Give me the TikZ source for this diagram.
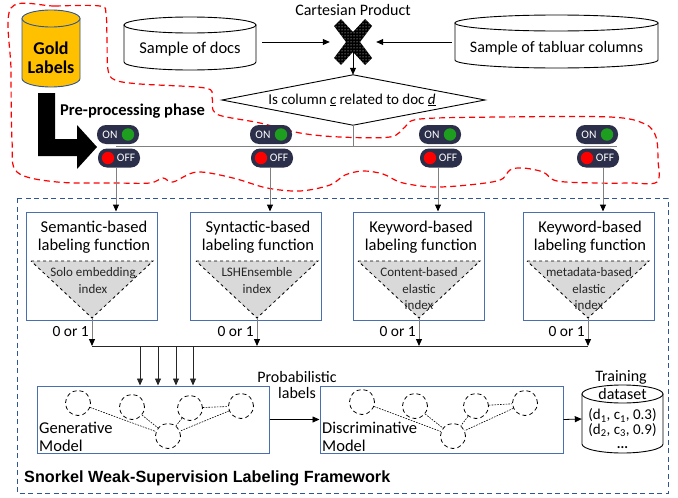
\documentclass[tikz,border=0pt]{standalone}
\usepackage{fontspec}
\setmainfont{Carlito}
\newfontfamily\arialfont{Liberation Sans}
\usetikzlibrary{arrows.meta,patterns,calc}
\definecolor{gold}{HTML}{FFC000}
\definecolor{bblue}{HTML}{2F5597}
\definecolor{lfblue}{HTML}{4A6FB0}
\definecolor{pillc}{HTML}{2C2F4A}
\definecolor{onG}{HTML}{1E9E1E}
\definecolor{offR}{HTML}{FF0000}
\definecolor{trig}{HTML}{D9D9D9}
\definecolor{lgray}{HTML}{808080}
\newcommand{\fs}[2]{\fontsize{#1}{#2}\selectfont}
\tikzset{
  arr/.style={-{Triangle[length=7pt,width=6pt]}, line width=0.8pt},
  garr/.style={draw=lgray, line width=1pt, -{Triangle[length=7pt,width=6pt,color=black]}},
  gline/.style={draw=lgray, line width=1pt},
  cylst/.style={draw=black, line width=0.9pt, fill=white},
  pill/.style={fill=pillc, rounded corners=9pt, minimum width=42pt, minimum height=19pt, inner sep=0pt},
  pilltxt/.style={text=white, font=\fs{11.5}{13}, inner sep=0pt},
  lfbox/.style={draw=lfblue, line width=1pt, minimum width=131pt, minimum height=108pt, inner sep=0pt},
  lftitle/.style={align=center, font=\fs{16.5}{18}, inner sep=0pt},
  tritxt/.style={align=center, font=\fs{13}{16.5}, inner sep=0pt, text=black!85},
  trist/.style={fill=trig, draw=black, dashed, line width=0.8pt},
  ghost/.style={inner sep=0pt},
  dcirc/.style={circle, draw=black, dash pattern=on 4pt off 3pt, line width=0.8pt, minimum size=25pt, inner sep=0pt},
  dline/.style={dash pattern=on 1.6pt off 1.2pt, line width=0.6pt},
  mbox/.style={draw=lfblue, line width=1pt, minimum height=67pt, inner sep=0pt},
  zeroone/.style={anchor=east, font=\fs{15.5}{18}, inner sep=0pt},
}
\begin{document}
\begin{tikzpicture}[x=1pt,y=-1pt]
\useasboundingbox (0,0) rectangle (678,498);

% red dashed blob
\draw[red, line width=1.2pt, dash pattern=on 6pt off 4pt]
  plot[smooth cycle, tension=0.55] coordinates {
  (11,8) (55,6) (100,6) (106,14) (107,40) (108,70) (115,80) (140,84) (205,88) (212,97)
  (213,110) (222,116) (260,123) (300,133) (340,137) (390,137) (405,127) (420,119) (500,117)
  (610,117) (645,124) (656,137) (658,160) (657,182) (630,183) (597,183) (557,181) (543,172)
  (523,168) (510,170) (497,181) (440,187) (403,183) (383,174) (363,171) (345,175) (330,185)
  (300,191) (267,188) (233,178) (197,172) (173,182) (163,178) (150,183) (117,183) (57,182)
  (17,172) (12,140) (11,70)};

% blue dashed framework
\draw[bblue, line width=1pt, dash pattern=on 5pt off 3.5pt] (17,198) rectangle (668,493);

% Gold Labels cylinder
\filldraw[draw=bblue, fill=gold, line width=0.9pt] (22,18.5) -- (22,78.5) arc[start angle=180,end angle=360,x radius=29pt,y radius=8.5pt] -- (80,18.5) -- cycle;
\filldraw[draw=bblue, fill=gold, line width=0.9pt] (51,18.5) ellipse[x radius=29pt, y radius=8.5pt];
\node[ghost, align=center, font=\bfseries\fs{18}{19}] (gold) at (51,57.5) {Gold\\Labels};

% Sample of docs cylinder
\filldraw[cylst] (124,25) -- (124,62) arc[start angle=180,end angle=360,x radius=66pt,y radius=8pt] -- (256,25) -- cycle;
\filldraw[cylst] (190,25) ellipse[x radius=66pt, y radius=8pt];
\node[ghost, minimum width=132pt, minimum height=53pt] (docs) at (190,42) {};
\node[ghost, font=\fs{16.5}{18}] at (190,49) {Sample of docs};

% Sample of tabular columns cylinder
\filldraw[cylst] (455,23) -- (455,60) arc[start angle=180,end angle=360,x radius=101.5pt,y radius=8pt] -- (658,23) -- cycle;
\filldraw[cylst] (556.5,23) ellipse[x radius=101.5pt, y radius=8pt];
\node[ghost, minimum width=203pt, minimum height=53pt] (tab) at (556.5,42) {};
\node[ghost, font=\fs{16}{18}] at (556.5,48) {Sample of tabluar columns};

% Cartesian product
\node[ghost, font=\fs{16}{17}] at (353,10) {Cartesian Product};
\node[ghost, minimum width=40pt, minimum height=46pt] (xmark) at (353,42) {};
\node[ghost, minimum width=263pt, minimum height=50pt] (diam) at (353,100) {};
\draw[arr, shorten <=6pt, shorten >=3pt] (docs.east) -- (xmark.west);
\draw[arr, shorten <=3pt, shorten >=3pt] (tab.west) -- (xmark.east);
\draw[arr] (xmark.center) -- (diam.north);
\begin{scope}[shift={(353,42)}]
  \fill[black] (-19,-16) -- (-12,-23) -- (0,-10) -- (12,-23) -- (19,-16) -- (7,0) -- (19,16) -- (12,23) -- (0,10) -- (-12,23) -- (-19,16) -- (-7,0) -- cycle;
  \fill[pattern=dots, pattern color=white] (-19,-16) -- (-12,-23) -- (0,-10) -- (12,-23) -- (19,-16) -- (7,0) -- (19,16) -- (12,23) -- (0,10) -- (-12,23) -- (-19,16) -- (-7,0) -- cycle;
\end{scope}

% diamond
\filldraw[draw=black, fill=white, line width=0.9pt] (222,100) -- (diam.north) -- (485,100) -- (diam.south) -- cycle;
\node[ghost, font=\fs{15}{17}] at (352,100) {Is column \underline{\textit{c}} related to doc \underline{\textit{d}}};

% L arrow + pre-processing label
\fill[black] (38,93) -- (55,93) -- (55,139) -- (77,139) -- (77,125) -- (97,147) -- (77,169) -- (77,156) -- (38,156) -- cycle;
\node[ghost, anchor=west, font=\bfseries\fs{16.5}{18}] at (60,111) {Pre-processing phase};

% bus line
\coordinate (busL) at (116,146);
\coordinate (busR) at (617,146);
\draw[gline] (busL) -- (busR);
\draw[gline] (diam.south) -- (diam.south |- busL);

% toggles
\foreach \i/\cx in {1/118,2/271,3/440,4/597}{
  \node[pill] (on\i) at (\cx,134.5) {};
  \node[pilltxt] at ([xshift=-8pt]on\i.center) {ON};
  \fill[onG] ([xshift=10pt]on\i.center) circle[radius=6.2pt];
  \node[pill] (off\i) at (\cx+1,158) {};
  \fill[offR] ([xshift=-11pt]off\i.center) circle[radius=6.2pt];
  \node[pilltxt] at ([xshift=7pt]off\i.center) {OFF};
}

% labeling function boxes
\node[lfbox] (lf1) at (91.5,266) {};
\node[lfbox] (lf2) at (256,266) {};
\node[lfbox] (lf3) at (419,266) {};
\node[lfbox] (lf4) at (588.5,266) {};
\node[lftitle] at (94,237) {Semantic-based\\labeling function};
\node[lftitle] at (258,237) {Syntactic-based\\labeling function};
\node[lftitle] at (421,237) {Keyword-based\\labeling function};
\node[lftitle] at (590,237) {Keyword-based\\labeling function};

\foreach \i/\cx in {1/92,2/257,3/419,4/588}{
  \filldraw[trist] (\cx-61,261) -- (\cx+61,261) -- (\cx,318) -- cycle;
  \coordinate (t\i) at (\cx,318);
}
\node[tritxt] at (93,280.5) {Solo embedding\\index};
\node[tritxt] at (257,280.5) {LSHEnsemble\\index};
\node[tritxt] at (419,289) {Content-based\\elastic\\index};
\node[tritxt] at (589,289) {metadata-based\\elastic\\index};

% arrows from toggles to LF boxes
\foreach \i/\vx in {1/116,2/270,3/438,4/603}{
  \coordinate (v\i) at (\vx,168);
  \draw[garr] (v\i) -- (v\i |- lf\i.north);
}

% outputs
\coordinate (hbL) at (92,346);
\coordinate (hbR) at (588,346);
\draw[line width=0.9pt, black!85] (hbL) -- (hbR);
\foreach \i in {1,2,3,4}{
  \draw[garr] (t\i) -- (t\i |- hbL);
  \node[zeroone] at ($(t\i)+(-3,14)$) {0 or 1};
}

% generative / discriminative models
\node[mbox, minimum width=232pt] (gen) at (153,419.5) {};
\node[mbox, minimum width=243pt] (disc) at (441.5,419.5) {};
\foreach \x in {140,158,176,193}{
  \coordinate (s) at (\x,346);
  \draw[arr, black!85] (s) -- (s |- gen.north);
}
\node[ghost, anchor=west, align=left, font=\fs{16.5}{18}] at (39,437) {Generative\\Model};
\node[ghost, anchor=west, align=left, font=\fs{16.5}{18}] at (322,437) {Discriminative\\Model};
\node[ghost, align=center, font=\fs{16}{16.5}] at (297,385) {Probabilistic\\labels};

\node[dcirc] (g1) at (78,403) {};
\node[dcirc] (g2) at (132,407) {};
\node[dcirc] (g3) at (190,408) {};
\node[dcirc] (g4) at (241,406) {};
\node[dcirc] (g5) at (168,436) {};
\draw[dline] (g1) -- (g5);
\draw[dline] (g2) -- (g5);
\draw[dline] (g3) -- (g5);
\draw[dline] (g3) -- (g4);
\draw[dline] (g4) -- (g5);

\node[dcirc] (d1) at (362,402) {};
\node[dcirc] (d2) at (415,406) {};
\node[dcirc] (d3) at (476,406) {};
\node[dcirc] (d4) at (525,403) {};
\node[dcirc] (d5) at (453,436) {};
\draw[dline] (d1) -- (d5);
\draw[dline] (d2) -- (d5);
\draw[dline] (d3) -- (d5);
\draw[dline] (d3) -- (d4);
\draw[dline] (d4) -- (d5);

% training dataset
\filldraw[cylst] (582,394) -- (582,444) arc[start angle=180,end angle=360,x radius=40.5pt,y radius=9pt] -- (663,394) -- cycle;
\filldraw[cylst] (622.5,394) ellipse[x radius=40.5pt, y radius=9pt];
\node[ghost, minimum width=81pt, minimum height=68pt] (train) at (622.5,419) {};
\node[ghost, font=\fs{16}{18}] at (621,377) {Training};
\node[ghost, font=\fs{16}{18}] at (622.5,394) {dataset};
\node[ghost, font=\fs{15}{15}] at (622.5,415.5) {(d\textsubscript{1}, c\textsubscript{1}, 0.3)};
\node[ghost, font=\fs{15}{15}] at (622.5,430) {(d\textsubscript{2}, c\textsubscript{3}, 0.9)};
\node[ghost, font=\bfseries\fs{14}{16}] at (622.5,447.5) {...};

\draw[arr] (gen.east) -- (disc.west);
\draw[arr] (disc.east) -- (train.west);

% framework label
\node[ghost, anchor=west, font=\arialfont\bfseries\fs{16.2}{18}] at (24,478) {Snorkel Weak-Supervision Labeling Framework};
\end{tikzpicture}
\end{document}
